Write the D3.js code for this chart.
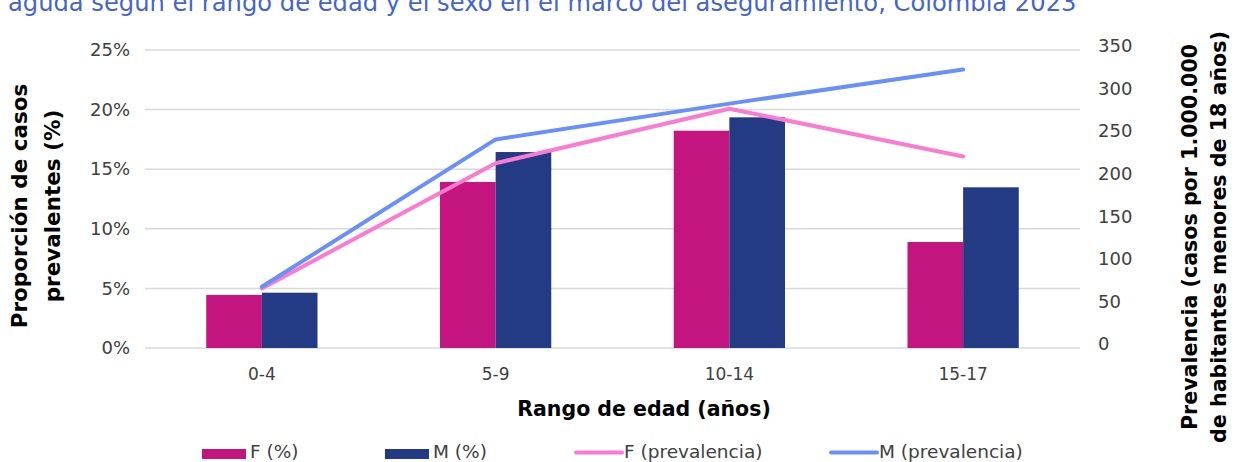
<!DOCTYPE html>
<html><head><meta charset="utf-8">
<script src="https://cdn.jsdelivr.net/npm/d3@7"></script>
<style>body{margin:0;background:#fff;} text{font-family:"DejaVu Sans", sans-serif;}</style>
</head><body><svg id="c" width="1235" height="462"></svg>
<script>
const categories = ["0-4", "5-9", "10-14", "15-17"];
const fPct = [4.45, 13.93, 18.23, 8.89];
const mPct = [4.64, 16.44, 19.35, 13.48];
const fPrev = [70, 217, 281, 225];
const mPrev = [72, 245, 287, 327];
const leftTicks = [0, 5, 10, 15, 20, 25];
const rightTicks = [0, 50, 100, 150, 200, 250, 300, 350];
const seriesNames = ["F (%)", "M (%)", "F (prevalencia)", "M (prevalencia)"];

const colF = "#c41480", colM = "#233a85", colFl = "#fa7bd0", colMl = "#6890f8";
const svg = d3.select("#c");
const L = 145, R = 1080, T = 50, B = 348;

const x0 = d3.scaleBand().domain(categories).range([L, R]).padding(0);
const step = x0.bandwidth();
const x1 = d3.scaleBand().domain(["F", "M"]).range([step * 0.262, step * 0.738]).padding(0);
const yL = d3.scaleLinear().domain([0, 25]).range([B, T]);
const yR = d3.scaleLinear().domain([0, 350]).range([B, T]);

// gridlines
svg.append("g").selectAll("line").data(leftTicks).join("line")
  .attr("x1", L).attr("x2", R).attr("y1", d => yL(d)).attr("y2", d => yL(d))
  .attr("stroke", "#d9d9d9").attr("stroke-width", 1.5);

// left axis labels
const ax = d3.axisLeft(yL).tickValues(leftTicks).tickFormat(d => d + "%").tickSize(0).tickPadding(15);
const gl = svg.append("g").attr("transform", `translate(${L},0)`).call(ax);
gl.select(".domain").remove();
gl.selectAll("text").attr("font-size", 18).attr("fill", "#404040").attr("font-family", "Lato");

const axr = d3.axisRight(yR).tickValues(rightTicks).tickSize(0).tickPadding(18);
const gr = svg.append("g").attr("transform", `translate(${R},0)`).call(axr);
gr.select(".domain").remove();
gr.selectAll("text").attr("font-size", 18).attr("fill", "#404040").attr("font-family", "Lato").attr("dy", "0.1em");

// x labels
const axb = d3.axisBottom(x0).tickSize(0).tickPadding(20);
const gb = svg.append("g").attr("transform", `translate(0,${B})`).call(axb);
gb.select(".domain").remove();
gb.selectAll("text").attr("font-size", 17).attr("fill", "#404040").attr("font-family", "Lato");

// bars
const groups = svg.append("g").selectAll("g").data(categories).join("g")
  .attr("transform", d => `translate(${x0(d)},0)`);
groups.append("rect").attr("x", x1("F")).attr("width", x1.bandwidth())
  .attr("y", (d, i) => yL(fPct[i])).attr("height", (d, i) => B - yL(fPct[i])).attr("fill", colF);
groups.append("rect").attr("x", x1("M")).attr("width", x1.bandwidth())
  .attr("y", (d, i) => yL(mPct[i])).attr("height", (d, i) => B - yL(mPct[i])).attr("fill", colM);

// lines
const cx = c => x0(c) + step / 2;
const line = d3.line().x(d => cx(d[0])).y(d => yR(d[1]));
svg.append("path").datum(categories.map((c, i) => [c, fPrev[i]])).attr("d", line)
  .attr("fill", "none").attr("stroke", colFl).attr("stroke-width", 4).attr("stroke-linecap", "round").attr("stroke-linejoin", "round");
svg.append("path").datum(categories.map((c, i) => [c, mPrev[i]])).attr("d", line)
  .attr("fill", "none").attr("stroke", colMl).attr("stroke-width", 4).attr("stroke-linecap", "round").attr("stroke-linejoin", "round");

// title (clipped first visible line)
svg.append("text").attr("x", 8).attr("y", 11).attr("font-size", 24.2).attr("fill", "#4565c8")
  .text("aguda según el rango de edad y el sexo en el marco del aseguramiento, Colombia 2023");

// axis titles
const lt = svg.append("text").attr("transform", "translate(0,206) rotate(-90)").attr("text-anchor", "middle")
  .attr("font-size", 21.5).attr("font-weight", "bold").attr("fill", "#000");
lt.append("tspan").attr("x", 0).attr("y", 27).text("Proporción de casos");
lt.append("tspan").attr("x", 0).attr("y", 60).text("prevalentes (%)");

const rt = svg.append("text").attr("transform", "translate(0,237) rotate(-90)").attr("text-anchor", "middle")
  .attr("font-size", 20.6).attr("font-weight", "bold").attr("fill", "#000");
rt.append("tspan").attr("x", 0).attr("y", 1197).text("Prevalencia (casos por 1.000.000");
rt.append("tspan").attr("x", 0).attr("y", 1226).text("de habitantes menores de 18 años)");

svg.append("text").attr("x", 644).attr("y", 416).attr("text-anchor", "middle")
  .attr("font-size", 20.5).attr("font-weight", "bold").attr("fill", "#000").text("Rango de edad (años)");

// legend
const legX = [202, 385, 574, 829];
const lg = svg.append("g").selectAll("g").data(seriesNames).join("g")
  .attr("transform", (d, i) => `translate(${legX[i]},0)`);
lg.filter((d, i) => i < 2).append("rect").attr("x", 0).attr("y", 449).attr("width", 44).attr("height", 10)
  .attr("fill", (d, i) => i === 0 ? colF : colM);
lg.filter((d, i) => i >= 2).append("line").attr("x1", 2).attr("x2", 48).attr("y1", 452.5).attr("y2", 452.5)
  .attr("stroke", (d, i) => i === 0 ? colFl : colMl).attr("stroke-width", 4).attr("stroke-linecap", "round");
lg.append("text").attr("x", (d, i) => i < 2 ? 48 : 50).attr("y", 458).attr("font-size", 18.5).attr("fill", "#404040").text(d => d);
</script></body></html>
